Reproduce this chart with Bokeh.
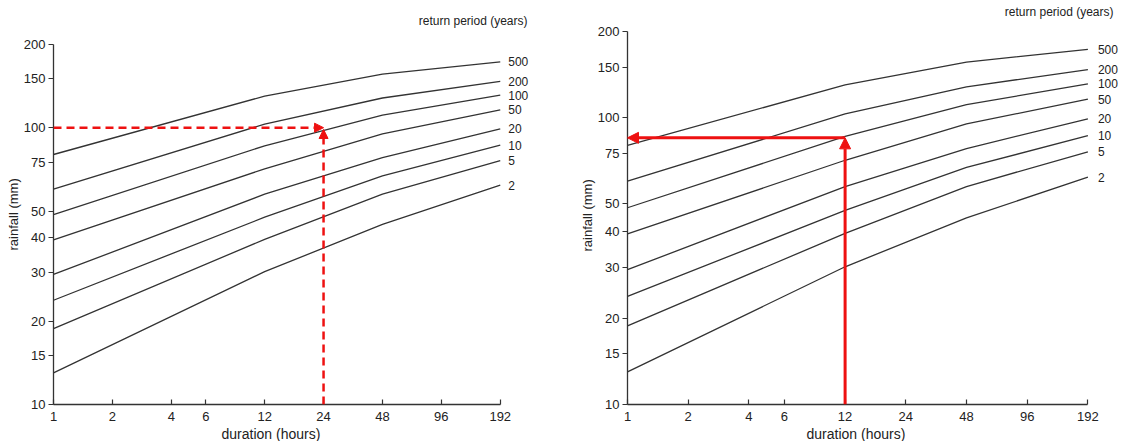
from bokeh.plotting import figure
from bokeh.layouts import row
from bokeh.models import FixedTicker, NumeralTickFormatter, Arrow, NormalHead, Label, Title
from bokeh.core.properties import value
from bokeh.embed import file_html
from bokeh.resources import INLINE

# ---------------- data ----------------
durations = [1, 12, 48, 192]                      # hours
return_periods = ["500", "200", "100", "50", "20", "10", "5", "2"]
rain_500 = [80, 130, 156, 173]
rain_200 = [60, 103, 128, 147]
rain_100 = [48.5, 86, 111, 131]
rain_50 = [39.3, 71, 95, 116]
rain_20 = [29.5, 57.5, 78, 99]
rain_10 = [23.8, 47.5, 67, 86.5]
rain_5 = [18.8, 39.5, 57.5, 76]
rain_2 = [13, 30.2, 44.7, 62]
curves = [rain_500, rain_200, rain_100, rain_50, rain_20, rain_10, rain_5, rain_2]

x_ticks = [1, 2, 4, 6, 12, 24, 48, 96, 192]
y_ticks = [10, 15, 20, 30, 40, 50, 75, 100, 150, 200]

# worked examples (duration h, rainfall mm)
left_duration, left_rain = 24, 100
right_duration, right_rain = 12, 85

FONT = "Liberation Sans"
INK = "#222222"
LINE = "#333333"
RED = "#ee1111"


def make_panel(width, height, x_end, y_end, bl, br, bt, bb, label_dx, xt_off, yt_off):
    p = figure(width=width, height=height, x_axis_type="log", y_axis_type="log",
               x_range=(1, x_end), y_range=(10, y_end),
               output_backend="svg", toolbar_location=None,
               min_border_left=bl, min_border_right=br,
               min_border_top=bt, min_border_bottom=bb)
    p.outline_line_color = None
    p.xgrid.grid_line_color = None
    p.ygrid.grid_line_color = None
    p.background_fill_color = "white"
    p.border_fill_color = "white"

    for ax in (p.xaxis[0], p.yaxis[0]):
        ax.axis_line_color = LINE
        ax.axis_line_width = 1.3
        ax.major_tick_line_color = LINE
        ax.major_tick_line_width = 1.2
        ax.minor_tick_line_color = None
        ax.major_label_text_font = FONT
        ax.major_label_text_font_size = "13px"
        ax.major_label_text_color = INK
        ax.formatter = NumeralTickFormatter(format="0")

    p.xaxis.ticker = FixedTicker(ticks=x_ticks)
    p.yaxis.ticker = FixedTicker(ticks=y_ticks)
    p.xaxis.bounds = (x_ticks[0], x_ticks[-1])
    p.yaxis.bounds = (y_ticks[0], y_ticks[-1])
    p.xaxis.major_tick_in = 5
    p.xaxis.major_tick_out = 0
    p.yaxis.major_tick_in = 0
    p.yaxis.major_tick_out = 5
    p.xaxis.major_label_standoff = 7
    p.yaxis.major_label_standoff = 3

    # axis titles, shifted to sit centred on the drawn axis as in the reference
    p.add_layout(Title(text="duration (hours)", align="left", offset=xt_off, standoff=0,
                       text_font=FONT, text_font_size="14px", text_font_style="normal",
                       text_color=INK), "below")
    p.add_layout(Title(text="rainfall (mm)", align="left", offset=yt_off, standoff=0,
                       text_font=FONT, text_font_size="13px", text_font_style="normal",
                       text_color=INK), "left")

    for ys in curves:
        p.line(durations, ys, line_color=LINE, line_width=1.3)

    p.text(x=[durations[-1]] * len(curves), y=[c[-1] for c in curves],
           text=return_periods, x_offset=label_dx, y_offset=0,
           text_font=value(FONT), text_font_size="12px", text_color=INK,
           text_align="left", text_baseline="middle")
    return p


# ---------------- left panel ----------------
left = make_panel(560, 441, 376.6, 288, 53, 3, 0, 36, 8, 168, 154)
left.add_layout(Label(x=264.6, y=243.8, text="return period (years)",
                      text_font=FONT, text_font_size="12px", text_color=INK,
                      text_align="right", text_baseline="middle"))
left.add_layout(Arrow(end=NormalHead(size=9, fill_color=RED, line_color=RED),
                      x_start=1, y_start=left_rain, x_end=left_duration, y_end=left_rain,
                      line_color=RED, line_width=2.5, line_dash="8 5"))
left.add_layout(Arrow(end=NormalHead(size=9, fill_color=RED, line_color=RED),
                      x_start=left_duration, y_start=10, x_end=left_duration, y_end=left_rain * 0.985,
                      line_color=RED, line_width=2.5, line_dash="8 5"))

# ---------------- right panel ----------------
right = make_panel(561, 441, 281.8, 255.9, 67, 0, 0, 34, 10, 179, 153)
right.add_layout(Label(x=257.2, y=232.8, text="return period (years)",
                       text_font=FONT, text_font_size="12px", text_color=INK,
                       text_align="right", text_baseline="middle"))
right.add_layout(Arrow(end=NormalHead(size=11, fill_color=RED, line_color=RED),
                       x_start=right_duration, y_start=10, x_end=right_duration, y_end=right_rain,
                       line_color=RED, line_width=3))
right.add_layout(Arrow(end=NormalHead(size=11, fill_color=RED, line_color=RED),
                       x_start=right_duration, y_start=right_rain, x_end=1, y_end=right_rain,
                       line_color=RED, line_width=3))

layout = row(left, right, spacing=0)
open("out.html", "w").write(file_html(layout, INLINE))
